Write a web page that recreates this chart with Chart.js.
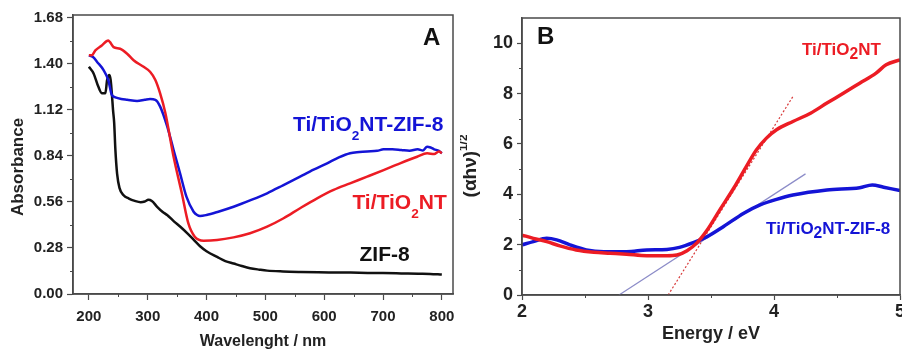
<!DOCTYPE html>
<html>
<head>
<meta charset="utf-8">
<script src="https://cdn.jsdelivr.net/npm/chart.js@4.4.1/dist/chart.umd.min.js"></script>
<style>
    body { margin: 0; background: #fff; width: 902px; height: 351px; overflow: hidden; position: relative; }
    canvas { position: absolute; top: 0; }
    #chartA { left: 0; }
    #chartB { left: 460px; }
</style>
</head>
<body>
<canvas id="chartA" width="460" height="351"></canvas>
<canvas id="chartB" width="442" height="351"></canvas>
<script>
// ---- Painel A: absorbância x comprimento de onda ----
const zifWl = [200, 208, 216, 222, 228, 231, 235, 237, 239, 241, 243, 245, 248, 252, 259, 268, 278, 288, 295, 301, 307, 316, 325, 333, 345, 355, 367, 378, 389, 400, 418, 432, 446, 460, 474, 490, 503, 530, 560, 590, 617, 645, 674, 700, 731, 760, 780, 800];
const zifAbs = [1.38, 1.34, 1.26, 1.22, 1.22, 1.30, 1.33, 1.30, 1.22, 1.12, 1.04, 0.88, 0.73, 0.645, 0.60, 0.58, 0.566, 0.558, 0.562, 0.572, 0.565, 0.53, 0.50, 0.48, 0.44, 0.41, 0.37, 0.33, 0.29, 0.26, 0.225, 0.20, 0.185, 0.17, 0.157, 0.148, 0.142, 0.137, 0.134, 0.132, 0.131, 0.130, 0.128, 0.127, 0.125, 0.123, 0.122, 0.118];

const tiZifWl = [200, 207, 214, 225, 233, 239, 245, 255, 265, 282, 295, 304, 313, 321, 333, 344, 355, 366, 378, 384, 389, 400, 420, 446, 475, 503, 530, 559, 582, 605, 625, 644, 660, 673, 690, 701, 716, 731, 745, 759, 768, 775, 781, 787, 795, 800];
const tiZifAbs = [1.45, 1.44, 1.41, 1.36, 1.30, 1.21, 1.195, 1.185, 1.18, 1.172, 1.18, 1.185, 1.18, 1.14, 1.02, 0.875, 0.733, 0.59, 0.50, 0.48, 0.474, 0.48, 0.50, 0.53, 0.57, 0.612, 0.66, 0.713, 0.755, 0.794, 0.83, 0.855, 0.862, 0.866, 0.87, 0.879, 0.88, 0.875, 0.87, 0.879, 0.872, 0.895, 0.89, 0.879, 0.87, 0.855];

const tiWl = [200, 205, 211, 222, 233, 236, 242, 253, 265, 276, 293, 304, 313, 321, 330, 344, 358, 369, 380, 395, 418, 446, 474, 503, 531, 559, 588, 616, 644, 673, 701, 729, 758, 775, 787, 795, 800];
const tiAbs = [1.45, 1.45, 1.48, 1.51, 1.54, 1.53, 1.50, 1.49, 1.46, 1.42, 1.38, 1.35, 1.30, 1.22, 1.10, 0.834, 0.612, 0.43, 0.348, 0.324, 0.328, 0.344, 0.369, 0.409, 0.46, 0.521, 0.581, 0.632, 0.672, 0.713, 0.753, 0.794, 0.834, 0.855, 0.85, 0.865, 0.855];

const wlTicks = [200, 300, 400, 500, 600, 700, 800];
const wlMinor = [250, 350, 450, 550, 650, 750];
const absTicks = [0.00, 0.28, 0.56, 0.84, 1.12, 1.40, 1.68];
const absMinor = [0.14, 0.42, 0.70, 0.98, 1.26, 1.54];

// ---- Painel B: (αhν)^1/2 x energia ----
const tiZifE = [2.0, 2.09, 2.196, 2.275, 2.38, 2.51, 2.65, 2.83, 2.99, 3.15, 3.25, 3.36, 3.47, 3.60, 3.76, 3.89, 4.02, 4.15, 4.42, 4.68, 4.78, 4.87, 5.0];
const tiZifTauc = [1.99, 2.12, 2.25, 2.19, 1.99, 1.79, 1.72, 1.72, 1.79, 1.81, 1.89, 2.08, 2.32, 2.72, 3.25, 3.58, 3.80, 3.97, 4.17, 4.26, 4.37, 4.28, 4.15];

const tiE = [2.0, 2.09, 2.196, 2.30, 2.43, 2.57, 2.70, 2.83, 2.99, 3.15, 3.23, 3.31, 3.39, 3.47, 3.57, 3.68, 3.78, 3.86, 3.94, 4.02, 4.15, 4.29, 4.42, 4.55, 4.68, 4.81, 4.89, 5.0];
const tiTauc = [2.38, 2.25, 2.12, 1.95, 1.79, 1.70, 1.66, 1.62, 1.56, 1.56, 1.59, 1.76, 2.08, 2.58, 3.38, 4.24, 5.10, 5.76, 6.23, 6.56, 6.89, 7.22, 7.62, 8.01, 8.41, 8.81, 9.14, 9.34];

// retas tangentes (extrapolação do gap)
const tiFitE = [3.16, 4.15];
const tiFitTauc = [0, 7.88];
const tiZifFitE = [2.77, 4.25];
const tiZifFitTauc = [0, 4.81];

const eTicks = [2, 3, 4, 5];
const eMinor = [2.5, 3.5, 4.5];
const taucTicks = [0, 2, 4, 6, 8, 10];
const taucMinor = [1, 3, 5, 7, 9];

const RED = '#ec1c24';
const BLUE = '#1414d6';
const BLACK = '#111111';
const AXIS = '#4a4a4a';
const FONT = "'Liberation Sans', Arial, sans-serif";

const toPoints = (xs, ys) => xs.map((x, i) => ({ x: x, y: ys[i] }));

// Moldura completa em volta da área do gráfico
const frameBox = {
    id: 'frameBox',
    afterDraw(chart) {
        const { ctx, chartArea: a } = chart;
        ctx.save();
        ctx.strokeStyle = AXIS;
        ctx.lineWidth = 1.5;
        ctx.strokeRect(a.left, a.top, a.right - a.left, a.bottom - a.top);
        ctx.restore();
    }
};

// Ticks menores (o Chart.js não tem isso nativo)
const minorTicks = {
    id: 'minorTicks',
    afterDraw(chart, args, opts) {
        const { ctx, chartArea: a, scales } = chart;
        ctx.save();
        ctx.strokeStyle = AXIS;
        ctx.lineWidth = 1;
        ctx.beginPath();
        opts.x.forEach(v => {
            const px = Math.round(scales.x.getPixelForValue(v)) + 0.5;
            ctx.moveTo(px, a.bottom);
            ctx.lineTo(px, a.bottom + opts.len);
        });
        opts.y.forEach(v => {
            const py = Math.round(scales.y.getPixelForValue(v)) + 0.5;
            ctx.moveTo(a.left, py);
            ctx.lineTo(a.left - opts.len, py);
        });
        ctx.stroke();
        ctx.restore();
    }
};

// Texto com sub/sobrescrito (rótulos das curvas, letras dos painéis, títulos)
function drawParts(ctx, parts, size, x, y) {
    let cx = x;
    parts.forEach(p => {
        const [txt, mode] = p;
        let s = size, dy = 0;
        if (mode === 'sub') { s = size * p[2]; dy = size * p[3]; }
        if (mode === 'sup') { s = size * 0.62; dy = -size * 0.45; }
        ctx.font = `bold ${s}px ${FONT}`;
        ctx.fillText(txt, cx, y + dy);
        cx += ctx.measureText(txt).width;
    });
}

const richText = {
    id: 'richText',
    afterDatasetsDraw(chart, args, opts) {
        const { ctx, scales } = chart;
        opts.items.forEach(it => {
            const px = it.px !== undefined ? it.px : scales.x.getPixelForValue(it.x);
            const py = it.py !== undefined ? it.py : scales.y.getPixelForValue(it.y);
            ctx.save();
            ctx.fillStyle = it.color;
            ctx.textBaseline = 'alphabetic';
            ctx.textAlign = 'left';
            if (it.rotate) {
                // mede para centralizar o texto girado
                let w = 0;
                it.parts.forEach(p => {
                    const s = p[1] === 'sup' ? it.size * 0.62 : it.size;
                    ctx.font = `bold ${s}px ${FONT}`;
                    w += ctx.measureText(p[0]).width;
                });
                ctx.translate(px, py);
                ctx.rotate(-Math.PI / 2);
                drawParts(ctx, it.parts, it.size, -w / 2, 0);
            } else {
                drawParts(ctx, it.parts, it.size, px, py);
            }
            ctx.restore();
        });
    }
};

function axisCfg(min, max, ticks, fontSize, tickPad, fmt) {
    return {
        type: 'linear',
        min: min,
        max: max,
        bounds: 'data',
        afterBuildTicks: s => { s.ticks = ticks.map(v => ({ value: v })); },
        ticks: {
            autoSkip: false,
            maxRotation: 0,
            minRotation: 0,
            padding: tickPad,
            color: '#222',
            font: { family: FONT, size: fontSize, weight: 'bold' },
            callback: fmt
        },
        grid: { drawOnChartArea: false, color: AXIS, tickLength: 6, tickWidth: 1.2 },
        border: { color: AXIS, width: 1.5 }
    };
}

function lineDs(xs, ys, color, width, order, extra) {
    return Object.assign({
        data: toPoints(xs, ys),
        borderColor: color,
        borderWidth: width,
        pointRadius: 0,
        cubicInterpolationMode: 'monotone',
        fill: false,
        order: order
    }, extra || {});
}

// ---------- Gráfico A ----------
const xA = axisCfg(173, 819, wlTicks, 15, 8, v => v);
xA.title = { display: true, text: 'Wavelenght / nm', color: '#222', font: { family: FONT, size: 16, weight: 'bold' }, padding: { top: 0, bottom: 0 } };
xA.afterFit = s => { s.height = 57; s.paddingLeft = 0; s.paddingRight = 0; };
const yA = axisCfg(0, 1.695, absTicks, 15, 4, v => v.toFixed(2));
yA.afterFit = s => { s.width = 73; s.paddingTop = 0; s.paddingBottom = 0; };

new Chart(document.getElementById('chartA'), {
    type: 'line',
    data: {
        datasets: [
            lineDs(tiWl, tiAbs, RED, 2.5, 1),
            lineDs(tiZifWl, tiZifAbs, BLUE, 2.5, 2),
            lineDs(zifWl, zifAbs, BLACK, 2.5, 3)
        ]
    },
    options: {
        responsive: false,
        animation: false,
        events: [],
        layout: { padding: { left: 0, right: 7, top: 15, bottom: 0 } },
        scales: { x: xA, y: yA },
        plugins: {
            legend: { display: false },
            tooltip: { enabled: false },
            minorTicks: { x: wlMinor, y: absMinor, len: 3 },
            richText: {
                items: [
                    { parts: [['A']], x: 768, y: 1.513, size: 24, color: BLACK },
                    { parts: [['Ti/TiO'], ['2', 'sub', 0.65, 0.42], ['NT-ZIF-8']], x: 547, y: 0.99, size: 21, color: BLUE },
                    { parts: [['Ti/TiO'], ['2', 'sub', 0.65, 0.42], ['NT']], x: 648, y: 0.516, size: 21, color: RED },
                    { parts: [['ZIF-8']], x: 660, y: 0.202, size: 21, color: BLACK },
                    { parts: [['Absorbance']], px: 23, py: 167, size: 17, color: '#222', rotate: true }
                ]
            }
        }
    },
    plugins: [minorTicks, frameBox, richText]
});

// ---------- Gráfico B ----------
const xB = axisCfg(2, 5, eTicks, 18, 1, v => v);
xB.grid.tickLength = 5;
xB.title = { display: true, text: 'Energy / eV', color: '#222', font: { family: FONT, size: 18, weight: 'bold' }, padding: { top: 0, bottom: 6 } };
xB.afterFit = s => { s.height = 56; s.paddingLeft = 0; s.paddingRight = 0; };
const yB = axisCfg(0, 11, taucTicks, 18, 4, v => v);
yB.grid.tickLength = 5;
yB.afterFit = s => { s.width = 62; s.paddingTop = 0; s.paddingBottom = 0; };

new Chart(document.getElementById('chartB'), {
    type: 'line',
    data: {
        datasets: [
            lineDs(tiE, tiTauc, RED, 3.5, 1),
            lineDs(tiZifE, tiZifTauc, BLUE, 3.5, 2),
            lineDs(tiFitE, tiFitTauc, '#d83a3a', 1.2, 3, { borderDash: [2, 2], cubicInterpolationMode: 'default' }),
            lineDs(tiZifFitE, tiZifFitTauc, '#8c8cc8', 1.2, 4, { cubicInterpolationMode: 'default' })
        ]
    },
    options: {
        responsive: false,
        animation: false,
        events: [],
        layout: { padding: { left: 0, right: 2, top: 18, bottom: 0 } },
        scales: { x: xB, y: yB },
        plugins: {
            legend: { display: false },
            tooltip: { enabled: false },
            minorTicks: { x: eMinor, y: taucMinor, len: 3 },
            richText: {
                items: [
                    { parts: [['B']], x: 2.119, y: 9.97, size: 24, color: BLACK },
                    { parts: [['Ti/TiO'], ['2', 'sub', 0.92, 0.25], ['NT']], x: 4.222, y: 9.535, size: 17, color: RED },
                    { parts: [['Ti/TiO'], ['2', 'sub', 0.92, 0.25], ['NT-ZIF-8']], x: 3.937, y: 2.42, size: 17, color: BLUE },
                    { parts: [['(αhν)'], ['1/2', 'sup']], px: 16, py: 166, size: 19, color: '#222', rotate: true }
                ]
            }
        }
    },
    plugins: [minorTicks, frameBox, richText]
});
</script>
</body>
</html>
